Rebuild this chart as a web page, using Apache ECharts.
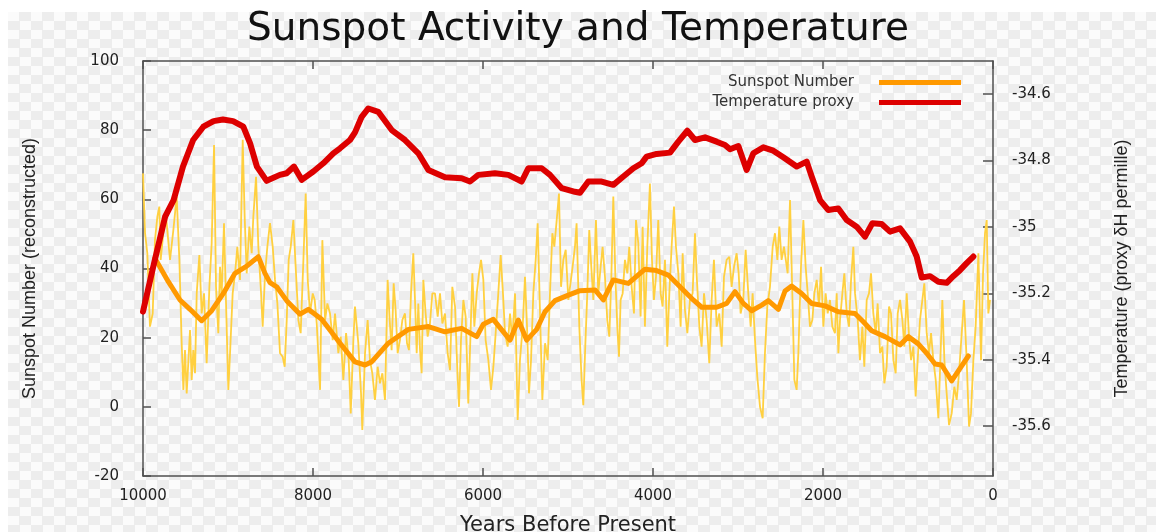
<!DOCTYPE html>
<html>
<head>
<meta charset="utf-8">
<script src="https://cdn.jsdelivr.net/npm/echarts@6/dist/echarts.min.js"></script>
<style>
html,body{margin:0;padding:0;background:#ffffff;overflow:hidden;}
#bg{position:absolute;left:8px;top:12px;width:1148px;height:520px;
  background-color:#ffffff;
  background-image:conic-gradient(#ededed 25%, #fbfbfb 0 50%, #ededed 0 75%, #fbfbfb 0);
  background-size:23px 18px;}
#chart{position:absolute;left:0;top:0;width:1156px;height:532px;}
</style>
</head>
<body>
<div id="bg"></div>
<div id="chart"></div>
<script>
// Raw (decadal-ish) reconstructed sunspot number
const rawYears = [10000,9976,9949,9918,9886,9859,9831,9808,9792,9761,9729,9682,9643,9604,9572,9545,9525,9506,9486,9466,9447,9427,9408,9388,9368,9337,9310,9282,9251,9219,9192,9164,9141,9114,9094,9074,9047,9023,8996,8976,8945,8917,8890,8859,8827,8804,8780,8749,8721,8702,8670,8643,8615,8592,8564,8537,8506,8474,8447,8419,8388,8357,8333,8309,8286,8262,8231,8200,8172,8145,8113,8086,8062,8035,8003,7980,7956,7917,7890,7858,7831,7800,7768,7741,7702,7674,7643,7611,7580,7556,7525,7506,7467,7435,7420,7388,7357,7330,7302,7271,7239,7212,7184,7153,7122,7098,7075,7051,7028,7004,6977,6949,6918,6894,6871,6847,6820,6800,6780,6761,6741,6722,6702,6675,6651,6624,6596,6565,6533,6506,6478,6447,6416,6388,6361,6329,6302,6282,6259,6231,6204,6173,6149,6125,6102,6074,6047,6023,5996,5969,5937,5906,5878,5851,5820,5792,5765,5741,5710,5682,5655,5623,5592,5565,5533,5506,5482,5459,5435,5408,5380,5357,5329,5302,5270,5239,5212,5184,5161,5133,5106,5082,5055,5027,4996,4946,4918,4899,4867,4840,4820,4797,4773,4750,4726,4702,4671,4644,4616,4593,4565,4538,4514,4491,4467,4444,4420,4400,4381,4357,4330,4302,4279,4251,4224,4200,4173,4146,4122,4095,4067,4036,4012,3989,3965,3938,3910,3887,3859,3832,3808,3781,3753,3730,3702,3675,3651,3624,3596,3565,3534,3506,3487,3455,3428,3400,3369,3338,3310,3283,3251,3220,3192,3165,3134,3102,3075,3047,3016,2992,2969,2938,2910,2879,2851,2828,2800,2773,2741,2710,2683,2655,2624,2592,2565,2537,2514,2487,2459,2416,2388,2361,2337,2310,2290,2259,2231,2204,2180,2153,2125,2102,2074,2047,2023,1996,1969,1945,1918,1890,1859,1839,1819,1800,1772,1749,1721,1694,1670,1643,1623,1592,1565,1537,1514,1486,1459,1435,1408,1380,1357,1329,1302,1278,1251,1223,1200,1172,1145,1121,1094,1066,1043,1015,988,964,937,910,886,859,831,808,780,753,729,702,674,643,619,596,572,545,517,486,455,427,400,368,341,310,282,259,231,204,172,141,117,94,74,55,35];
const rawValues = [67.5,50.2,44.4,23.2,27.0,48.2,55.0,57.9,42.5,50.2,55.0,42.5,51.1,60.8,42.5,18.4,4.9,16.4,3.9,3.4,22.2,7.8,16.4,9.7,32.8,43.9,27.0,32.8,12.6,34.7,47.3,75.7,34.7,21.3,40.5,32.8,53.1,29.9,4.9,15.5,32.8,38.6,46.3,36.7,77.2,55.0,38.6,52.1,44.4,55.0,66.5,46.3,34.7,23.2,38.6,46.3,53.1,46.3,36.7,29.9,15.5,14.5,11.6,25.1,42.5,46.3,54.0,38.6,25.1,21.3,42.5,61.7,36.7,27.0,32.8,30.9,24.1,4.9,48.2,25.1,29.9,27.0,19.3,27.0,15.5,20.3,7.8,21.3,13.5,-1.9,19.3,29.0,18.4,3.9,-6.7,15.5,25.1,13.5,9.7,2.0,11.6,6.8,9.7,2.0,36.7,25.1,16.4,35.7,28.0,15.5,19.3,25.1,27.0,18.4,16.4,32.8,44.4,30.9,15.5,29.9,16.4,9.7,36.7,27.0,20.3,24.1,32.8,32.8,26.1,32.8,24.1,27.0,15.5,10.6,34.7,29.0,10.6,0.0,19.3,30.9,26.1,1.0,19.3,38.6,23.2,32.8,38.6,42.5,36.7,19.3,13.5,4.9,11.6,21.3,32.8,43.9,32.8,21.3,17.4,27.0,19.3,32.8,-3.8,13.5,23.2,37.6,23.2,3.9,13.5,32.8,42.5,53.1,27.0,2.0,18.4,13.5,32.8,50.2,46.3,54.0,61.7,34.7,42.5,45.4,30.9,40.5,46.3,53.1,23.2,7.8,0.5,17.4,32.8,51.1,40.5,30.9,54.0,32.8,40.5,46.3,37.6,25.1,20.3,36.7,60.8,38.6,23.2,14.5,30.9,32.8,42.5,38.6,46.3,34.7,27.0,54.0,47.3,26.1,52.1,23.2,46.3,64.6,42.5,30.9,37.6,54.0,32.8,29.0,42.5,17.4,32.8,46.3,57.9,46.3,38.6,23.2,44.4,28.0,21.3,30.9,32.8,50.2,38.6,23.2,17.4,32.8,25.1,12.6,30.9,42.5,23.2,27.0,17.4,37.6,42.5,43.4,34.7,40.5,44.4,38.6,27.0,30.9,45.4,32.8,23.2,32.8,19.3,8.7,0.0,-3.3,15.5,29.0,34.7,46.3,50.2,42.5,52.1,42.5,46.3,38.6,59.8,32.8,7.8,4.9,15.5,40.5,54.0,40.5,32.8,23.2,25.1,32.8,36.7,29.0,40.5,23.2,32.8,27.0,30.9,23.2,21.3,32.8,15.5,25.1,32.8,38.6,27.0,23.2,36.7,46.3,32.8,25.1,13.5,23.2,11.6,30.9,32.8,38.6,27.0,21.3,29.9,15.5,17.4,6.8,11.6,29.0,27.0,13.5,9.7,27.0,30.9,25.1,17.4,32.8,20.3,13.5,17.4,3.0,13.5,25.1,30.9,35.7,21.3,15.5,21.3,13.5,7.8,-3.3,13.5,30.9,13.5,3.9,-5.3,-1.9,5.8,2.0,9.7,21.3,30.9,13.5,-5.7,-1.9,13.5,23.2,44.4,13.5,38.6,50.2,54.0,27.0,30.9];

// Smoothed sunspot number (thick orange)
const smoothYears = [9860,9702,9565,9447,9310,9192,9055,8918,8780,8643,8565,8506,8427,8310,8153,8055,7898,7682,7506,7388,7310,7114,6878,6643,6447,6251,6074,5996,5879,5682,5585,5486,5369,5271,5153,4996,4859,4682,4584,4467,4290,4094,3957,3820,3682,3526,3427,3251,3133,3035,2937,2839,2721,2643,2525,2447,2369,2251,2133,1976,1820,1624,1526,1427,1271,1094,996,879,780,682,604,486,388,290];
const smoothValues = [43.0,36.2,30.9,28.2,24.9,27.8,32.8,38.6,40.7,43.4,38.6,35.9,34.7,30.7,26.8,28.2,25.3,18.4,13.0,12.1,13.0,18.4,22.4,23.2,21.7,22.7,20.3,23.9,25.3,19.3,25.1,19.3,22.4,27.5,30.7,32.3,33.6,33.8,30.9,36.7,35.7,39.8,39.4,38.1,34.7,30.9,28.8,28.8,29.9,33.3,29.9,27.8,29.4,30.7,28.2,33.5,34.9,32.8,29.9,29.2,27.5,27.0,24.6,22.0,20.3,17.9,20.3,18.2,15.5,12.4,12.1,7.5,11.1,14.7];

// Temperature proxy (thick red, right axis)
const tempYears = [10000,9880,9740,9640,9530,9410,9290,9170,9060,8940,8820,8740,8660,8545,8390,8310,8224,8133,7996,7879,7761,7682,7565,7506,7427,7349,7232,7074,6918,6761,6643,6447,6251,6153,6055,5859,5702,5545,5467,5310,5212,5074,4918,4859,4761,4604,4467,4349,4231,4133,4075,3957,3800,3702,3596,3506,3388,3251,3153,3094,2996,2898,2820,2702,2585,2467,2310,2192,2133,2035,1937,1820,1721,1604,1506,1420,1310,1212,1094,976,898,839,741,643,545,467,388,310,231];
const tempValues = [-35.255,-35.12,-34.969,-34.919,-34.818,-34.738,-34.698,-34.681,-34.676,-34.681,-34.698,-34.748,-34.818,-34.861,-34.843,-34.838,-34.818,-34.858,-34.833,-34.808,-34.778,-34.763,-34.738,-34.715,-34.668,-34.643,-34.653,-34.708,-34.738,-34.778,-34.828,-34.850,-34.853,-34.863,-34.843,-34.838,-34.843,-34.863,-34.823,-34.823,-34.843,-34.883,-34.894,-34.897,-34.863,-34.863,-34.873,-34.848,-34.823,-34.808,-34.788,-34.780,-34.776,-34.743,-34.710,-34.738,-34.730,-34.743,-34.753,-34.766,-34.756,-34.828,-34.778,-34.760,-34.770,-34.790,-34.818,-34.803,-34.848,-34.919,-34.949,-34.944,-34.979,-34.999,-35.029,-34.989,-34.991,-35.014,-35.004,-35.044,-35.089,-35.152,-35.148,-35.165,-35.168,-35.148,-35.130,-35.109,-35.089];

// Tick labels
const rightTicks = [-35.6, -35.4, -35.2, -35, -34.8, -34.6];

const zip = (xs, ys) => xs.map((x, i) => [x, ys[i]]);

const axisColor = '#505050';
const labelFont = 'DejaVu Sans';
const chart = echarts.init(document.getElementById('chart'), null, {renderer: 'canvas', width: 1156, height: 532});

const xBase = {
  type: 'value', min: 0, max: 10000, interval: 2000, inverse: true,
  axisLine: {show: true, onZero: false, lineStyle: {color: axisColor, width: 1.5}},
  axisTick: {show: true, inside: true, length: 8, lineStyle: {color: axisColor, width: 1.5}},
  splitLine: {show: false}
};

chart.setOption({
  animation: false,
  backgroundColor: 'transparent',
  title: {
    text: 'Sunspot Activity and Temperature',
    left: 'center', top: 5,
    textStyle: {fontFamily: 'DejaVu Sans', fontSize: 39, fontWeight: 'normal', color: '#111'}
  },
  legend: {
    orient: 'vertical', right: 190, top: 70, align: 'right',
    icon: 'rect', itemWidth: 82, itemHeight: 5, itemGap: 5,
    data: ['Sunspot Number', 'Temperature proxy'],
    textStyle: {fontFamily: labelFont, fontSize: 15, color: '#333', padding: [0, 20, 0, 0]}
  },
  grid: {left: 143, top: 61, width: 850, height: 415, containLabel: false, outerBoundsMode: 'none'},
  xAxis: [
    Object.assign({}, xBase, {
      position: 'bottom',
      name: 'Years Before Present', nameLocation: 'middle', nameGap: 39,
      nameTextStyle: {fontFamily: labelFont, fontSize: 21, color: '#222'},
      axisLabel: {margin: 13, fontFamily: labelFont, fontSize: 15, color: '#222', formatter: v => String(v)}
    }),
    Object.assign({}, xBase, {position: 'top', axisLabel: {show: false}})
  ],
  yAxis: [
    {
      type: 'value', min: -20, max: 100, interval: 20, position: 'left',
      name: 'Sunspot Number (reconstructed)', nameLocation: 'middle', nameGap: 104, nameRotate: 90,
      nameTextStyle: {fontFamily: 'Liberation Sans', fontSize: 18, color: '#222'},
      axisLine: {show: true, onZero: false, lineStyle: {color: axisColor, width: 1.5}},
      axisTick: {show: true, inside: true, length: 8, lineStyle: {color: axisColor, width: 1.5}},
      axisLabel: {margin: 24, fontFamily: labelFont, fontSize: 15, color: '#222'},
      splitLine: {show: false}
    },
    {
      type: 'value', min: -35.75, max: -34.5, position: 'right',
      name: 'Temperature (proxy δH permille)', nameLocation: 'middle', nameGap: 120, nameRotate: 90,
      nameTextStyle: {fontFamily: 'Liberation Sans', fontSize: 18, color: '#222'},
      axisLine: {show: true, onZero: false, lineStyle: {color: axisColor, width: 1.5}},
      axisTick: {show: true, inside: true, length: 10, customValues: rightTicks, lineStyle: {color: axisColor, width: 1.5}},
      axisLabel: {margin: 19, customValues: rightTicks, fontFamily: labelFont, fontSize: 15, color: '#222'},
      splitLine: {show: false}
    }
  ],
  series: [
    {
      name: 'Sunspot raw', type: 'line', xAxisIndex: 0, yAxisIndex: 0,
      data: zip(rawYears, rawValues), symbol: 'none', silent: true, z: 1,
      lineStyle: {color: '#ffd040', width: 1.8}, itemStyle: {color: '#ffd040'}
    },
    {
      name: 'Sunspot Number', type: 'line', xAxisIndex: 0, yAxisIndex: 0,
      data: zip(smoothYears, smoothValues), symbol: 'none', z: 2,
      lineStyle: {color: '#ff9900', width: 5, join: 'round', cap: 'round'}, itemStyle: {color: '#ff9900'}
    },
    {
      name: 'Temperature proxy', type: 'line', xAxisIndex: 0, yAxisIndex: 1,
      data: zip(tempYears, tempValues), symbol: 'none', z: 3,
      lineStyle: {color: '#dd0000', width: 6, join: 'round', cap: 'round'}, itemStyle: {color: '#dd0000'}
    }
  ]
});
</script>
</body>
</html>
